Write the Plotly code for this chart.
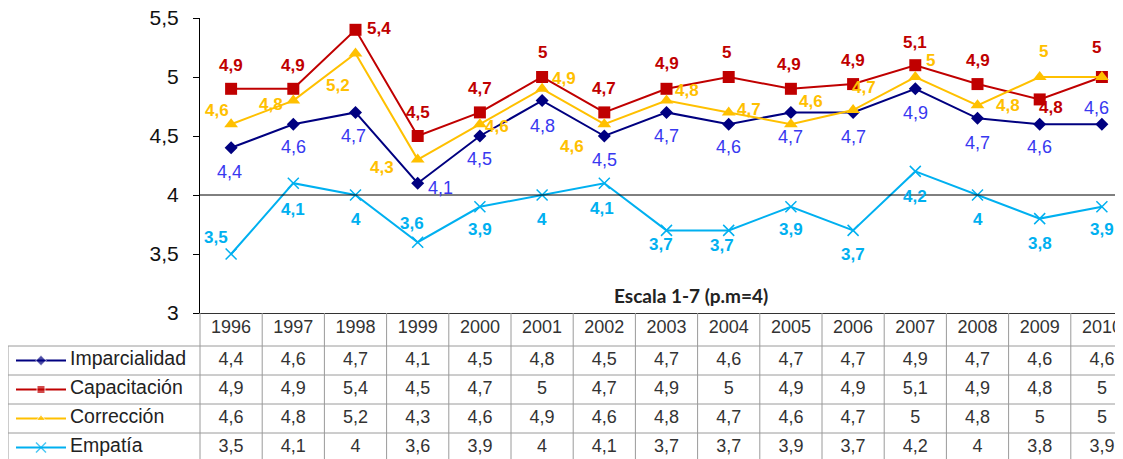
import plotly.graph_objects as go

# ---------------- data ----------------
years = ["1996", "1997", "1998", "1999", "2000", "2001", "2002", "2003",
         "2004", "2005", "2006", "2007", "2008", "2009", "2010"]

imparcialidad = [4.4, 4.6, 4.7, 4.1, 4.5, 4.8, 4.5, 4.7, 4.6, 4.7, 4.7, 4.9, 4.65, 4.6, 4.6]
capacitacion = [4.9, 4.9, 5.4, 4.5, 4.7, 5.0, 4.7, 4.9, 5.0, 4.9, 4.94, 5.1, 4.94, 4.81, 5.0]
correccion = [4.6, 4.8, 5.2, 4.3, 4.6, 4.9, 4.6, 4.8, 4.7, 4.6, 4.72, 5.0, 4.76, 5.0, 5.0]
empatia = [3.5, 4.1, 4.0, 3.6, 3.9, 4.0, 4.1, 3.7, 3.7, 3.9, 3.7, 4.2, 4.0, 3.8, 3.9]

imparcialidad_txt = ["4,4", "4,6", "4,7", "4,1", "4,5", "4,8", "4,5", "4,7", "4,6", "4,7", "4,7", "4,9", "4,7", "4,6", "4,6"]
capacitacion_txt = ["4,9", "4,9", "5,4", "4,5", "4,7", "5", "4,7", "4,9", "5", "4,9", "4,9", "5,1", "4,9", "4,8", "5"]
correccion_txt = ["4,6", "4,8", "5,2", "4,3", "4,6", "4,9", "4,6", "4,8", "4,7", "4,6", "4,7", "5", "4,8", "5", "5"]
empatia_txt = ["3,5", "4,1", "4", "3,6", "3,9", "4", "4,1", "3,7", "3,7", "3,9", "3,7", "4,2", "4", "3,8", "3,9"]

series_names = ["Imparcialidad", "Capacitación", "Corrección", "Empatía"]
y_ticks = [3, 3.5, 4, 4.5, 5, 5.5]
y_ticktext = ["3", "3,5", "4", "4,5", "5", "5,5"]
note = "Escala 1-7 (p.m=4)"

# ---------------- styling / layout (pixels) ----------------
W, H = 1123, 459
PAGE_OFF = 8           # page body margin: figure is drawn 8px right/down
AX_LEFT_REF = 200      # pixel x of y-axis in the target picture
AX_LEFT = AX_LEFT_REF - PAGE_OFF
COL_W = 62.2           # pixel width of one year column
PLOT_TOP, PLOT_BOT = 18 - PAGE_OFF, 313 - PAGE_OFF
ROW_LINES = [0, 33, 62, 91, 120, 149]   # table rows, pixels below the axis line
ROW_CENTERS = [15, 47.5, 76.5, 105.5, 134.5]

NAVY, RED, GOLD, CYAN = "#000080", "#C00000", "#FFC000", "#00B0F0"
LBL_BLUE = "#3838F0"
GRID = "#9a9a9a"
FONT = "Liberation Sans, Arial, sans-serif"

x_right = -0.5 + (W - AX_LEFT) / COL_W
x2_left = -0.5 - AX_LEFT / COL_W


def px2x(ref_px):
    return -0.5 + (ref_px - AX_LEFT_REF) / COL_W


styles = [
    dict(name=series_names[0], vals=imparcialidad, txt=imparcialidad_txt, color=NAVY,
         symbol="diamond", size=10, lbl=LBL_BLUE, bold=False,
         off=[(-2, 24), (0, 23), (-2, 24), (23, 5), (0, 23), (0, 25), (0, 24), (0, 24),
              (0, 23), (0, 25), (0, 25), (0, 24), (0, 25), (0, 23), (-5, -16)]),
    dict(name=series_names[1], vals=capacitacion, txt=capacitacion_txt, color=RED,
         symbol="square", size=12, lbl=RED, bold=True,
         off=[(0, -23), (0, -23), (23, -1), (0, -23), (0, -24), (0, -24), (0, -24), (0, -25),
              (-2, -24), (-2, -24), (0, -24), (0, -23), (0, -24), (11, 8), (-5, -29)]),
    dict(name=series_names[2], vals=correccion, txt=correccion_txt, color=GOLD,
         symbol="triangle-up", size=12, lbl=GOLD, bold=True,
         off=[(-14, -14), (-22, 4), (-18, 32), (-36, 8), (17, 2), (22, -10), (-32, 22), (20, -10),
              (20, -3), (20, -23), (11, -23), (15, -16), (30, 0), (4, -25), (19, 0)]),
    dict(name=series_names[3], vals=empatia, txt=empatia_txt, color=CYAN,
         symbol="x-thin", size=11, lbl=CYAN, bold=True,
         off=[(-15, -16), (0, 26), (0, 25), (-6, -19), (0, 23), (0, 25), (-2, 25), (-6, 14),
              (-7, 15), (0, 23), (0, 24), (0, 25), (0, 25), (0, 25), (0, 23)]),
]

fig = go.Figure()
xs = list(range(len(years)))
annotations = []

for r0, s in enumerate(styles):
    r = r0 + 1
    marker = dict(symbol=s["symbol"], size=s["size"], color=s["color"])
    if s["symbol"] == "x-thin":
        marker["line"] = dict(color=s["color"], width=1.5)
    fig.add_trace(go.Scatter(
        x=xs, y=s["vals"], mode="lines+markers", name=s["name"],
        line=dict(color=s["color"], width=2), marker=marker,
        xaxis="x", yaxis="y", cliponaxis=False, showlegend=False,
    ))
    for i, (v, t) in enumerate(zip(s["vals"], s["txt"])):
        dx, dy = s["off"][i]
        annotations.append(dict(
            x=i, y=v, xref="x", yref="y", text=("<b>%s</b>" % t) if s["bold"] else t,
            showarrow=False, xshift=dx, yshift=-dy,
            font=dict(family=FONT, size=18 if not s["bold"] else 17, color=s["lbl"]),
        ))

    # table row values
    fig.add_trace(go.Scatter(
        x=xs, y=[ROW_CENTERS[r]] * len(xs), mode="text", text=s["txt"],
        textfont=dict(family=FONT, size=18, color="#333333"),
        xaxis="x2", yaxis="y2", showlegend=False, hoverinfo="skip", cliponaxis=False,
    ))
    # legend sample in table
    sample_marker = dict(symbol=s["symbol"], size=[0, 8 if s["symbol"] != "x-thin" else 10, 0],
                         color=s["color"])
    if s["symbol"] == "x-thin":
        sample_marker["line"] = dict(color=s["color"], width=1.5)
    fig.add_trace(go.Scatter(
        x=[px2x(16), px2x(41), px2x(66)], y=[ROW_CENTERS[r]] * 3, mode="lines+markers",
        line=dict(color=s["color"], width=2), marker=sample_marker,
        xaxis="x2", yaxis="y2", showlegend=False, hoverinfo="skip", cliponaxis=False,
    ))
    fig.add_trace(go.Scatter(
        x=[px2x(70)], y=[ROW_CENTERS[r]], mode="text", text=[s["name"]],
        textposition="middle right",
        textfont=dict(family=FONT, size=19.5, color="#222222"),
        xaxis="x2", yaxis="y2", showlegend=False, hoverinfo="skip", cliponaxis=False,
    ))

# header years
fig.add_trace(go.Scatter(
    x=xs, y=[ROW_CENTERS[0]] * len(xs), mode="text", text=years,
    textfont=dict(family=FONT, size=18, color="#333333"),
    xaxis="x2", yaxis="y2", showlegend=False, hoverinfo="skip", cliponaxis=False,
))

shapes = []
# reference line at 4
shapes.append(dict(type="line", xref="x domain", yref="y", x0=0, x1=1, y0=4, y1=4,
                   line=dict(color="#000000", width=1)))
# table grid
for k, yl in enumerate(ROW_LINES):
    if k == 0:
        continue
    shapes.append(dict(type="line", xref="x2", yref="y2", x0=px2x(8), x1=x_right + 1,
                       y0=yl, y1=yl, line=dict(color=GRID, width=1)))
shapes.append(dict(type="line", xref="x2", yref="y2", x0=px2x(8), x1=px2x(8),
                   y0=ROW_LINES[1], y1=ROW_LINES[-1], line=dict(color=GRID, width=1)))
for k in range(len(years) + 1):
    shapes.append(dict(type="line", xref="x2", yref="y2", x0=k - 0.5, x1=k - 0.5,
                       y0=0, y1=ROW_LINES[-1], line=dict(color=GRID, width=1)))

annotations.append(dict(
    x=(691 - PAGE_OFF) / W, y=1 - (295 - PAGE_OFF) / H, xref="paper", yref="paper",
    text="<b>%s</b>" % note, showarrow=False,
    font=dict(family="Lato, sans-serif", size=19, color="#222222"),
))

fig.update_layout(
    width=W, height=H, margin=dict(l=0, r=0, t=0, b=0, pad=0, autoexpand=False),
    paper_bgcolor="white", plot_bgcolor="white",
    showlegend=False,
    xaxis=dict(domain=[AX_LEFT / W, 1], range=[-0.5, x_right], showgrid=False,
               zeroline=False, showticklabels=False, ticks="", showline=True,
               linecolor="#333333", linewidth=1, anchor="y", fixedrange=True,
               automargin=False),
    yaxis=dict(domain=[1 - PLOT_BOT / H, 1 - PLOT_TOP / H], range=[3, 5.5],
               tickvals=y_ticks, ticktext=y_ticktext, ticks="outside", ticklen=6,
               tickcolor="#000000", showline=True, linecolor="#000000", linewidth=1,
               showgrid=False, zeroline=False, anchor="x", automargin=False,
               ticklabeloverflow="allow", ticklabelstandoff=10,
               tickfont=dict(family=FONT, size=21, color="#111111")),
    xaxis2=dict(domain=[0, 1], range=[x2_left, x_right], visible=False, anchor="y2",
                automargin=False),
    yaxis2=dict(domain=[0, 1 - PLOT_BOT / H], range=[H - PLOT_BOT, 0], visible=False,
                anchor="x2", automargin=False),
    shapes=shapes,
    annotations=annotations,
)

fig.write_html("out.html")
